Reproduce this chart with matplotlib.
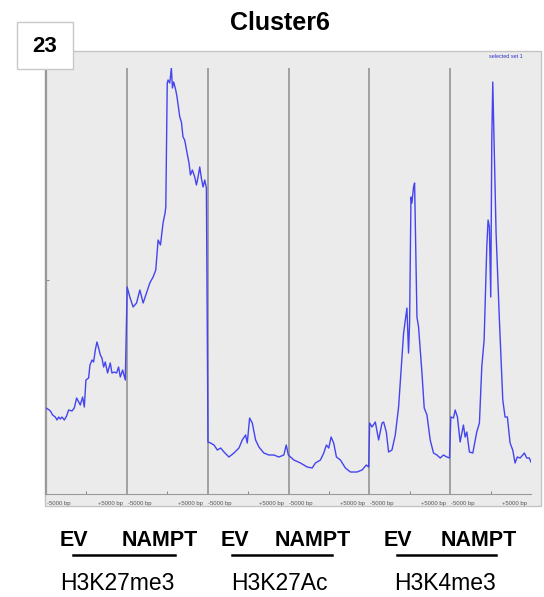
import matplotlib
matplotlib.use("Agg")
import matplotlib.pyplot as plt
from matplotlib.patches import Rectangle
from matplotlib.transforms import blended_transform_factory

plt.rcParams["font.family"] = ["Liberation Sans", "DejaVu Sans"]

# Average read density profiles around TSS (-5000 .. +5000 bp), one per track
ev_k27me3_bp = [-5000, -4590, -4380, -4180, -3850, -3640, -3430, -3230, -3020, -2730, -2450,
                -2200, -1790, -1500, -1210, -960, -760, -470, -260, -60, 270, 440, 690, 890,
                1100, 1300, 1510, 1720, 1920, 2130, 2330, 2620, 2950, 3160, 3450, 3730,
                3980, 4190, 4480, 4810]
ev_k27me3 = [0.84, 0.82, 0.80, 0.77, 0.75, 0.72, 0.75, 0.73, 0.75, 0.72, 0.76,
             0.82, 0.81, 0.84, 0.94, 0.90, 0.87, 0.95, 0.85, 1.12, 1.14, 1.27, 1.32, 1.30,
             1.42, 1.50, 1.44, 1.37, 1.34, 1.25, 1.30, 1.19, 1.29, 1.19, 1.20, 1.19,
             1.25, 1.15, 1.22, 1.12]

nampt_k27me3_bp = [-4960, -4630, -4220, -3800, -3390, -2980, -2570, -2160, -1750, -1420, -1130,
                   -840, -520, -270, -180, 0, 100, 310, 510, 640, 800, 1050, 1210, 1550,
                   1750, 1950, 2160, 2450, 2690, 2870, 3110, 3400, 3610, 3810, 4020, 4220,
                   4430, 4640, 4840]
nampt_k27me3 = [2.05, 1.95, 1.85, 1.89, 2.02, 1.89, 1.99, 2.09, 2.15, 2.22, 2.52,
                2.47, 2.69, 2.79, 2.85, 4.09, 4.12, 4.09, 4.24, 4.04, 4.10, 4.02, 3.95, 3.75,
                3.70, 3.55, 3.52, 3.39, 3.29, 3.17, 3.22, 3.15, 3.07, 3.15, 3.25, 3.14,
                3.05, 3.12, 3.04]

ev_k27ac_bp = [-4960, -4630, -4220, -3800, -3390, -2980, -2370, -1750, -1130, -720, -310,
               -100, 190, 520, 930, 1340, 1950, 2570, 3190, 3800, 4420, 4720, 4980]
ev_k27ac = [0.50, 0.49, 0.47, 0.42, 0.44, 0.40, 0.35, 0.39, 0.44, 0.52, 0.57,
            0.49, 0.74, 0.69, 0.52, 0.45, 0.39, 0.37, 0.37, 0.35, 0.37, 0.47, 0.37]

nampt_k27ac_bp = [-4750, -4340, -3520, -2690, -2070, -1670, -1050, -640, -310, -20, 270, 590,
                  930, 1420, 2040, 2660, 3480, 4100, 4630, 4920]
nampt_k27ac = [0.35, 0.32, 0.29, 0.25, 0.24, 0.29, 0.32, 0.39, 0.47, 0.44, 0.55, 0.49,
               0.35, 0.32, 0.24, 0.20, 0.20, 0.22, 0.27, 0.25]

ev_k4me3_bp = [-4960, -4670, -4260, -3850, -3430, -3230, -2900, -2620, -2200, -1790, -1380,
               -1090, -760, -350, -150, -20, 150, 270, 470, 600, 720, 890, 1090, 1510,
               1790, 2130, 2530, 2940, 3360, 3770, 4170, 4590, 4920]
ev_k4me3 = [0.69, 0.65, 0.70, 0.52, 0.69, 0.70, 0.60, 0.40, 0.42, 0.57, 0.85,
            1.19, 1.59, 1.84, 1.39, 1.69, 2.95, 2.89, 3.05, 3.09, 2.52, 1.75, 1.65, 1.19,
            0.84, 0.77, 0.52, 0.39, 0.37, 0.34, 0.37, 0.35, 0.34]

nampt_k4me3_bp = [-4920, -4590, -4380, -4100, -3770, -3360, -3150, -2940, -2620, -2200, -1710,
                  -1380, -1090, -800, -470, -310, -150, 20, 150, 270, 430, 680, 1090, 1510,
                  1790, 2080, 2410, 2740, 3030, 3310, 3650, 3980, 4180, 4470, 4790, 5000]
nampt_k4me3 = [0.75, 0.74, 0.82, 0.75, 0.50, 0.67, 0.55, 0.60, 0.40, 0.39, 0.60,
               0.69, 1.25, 1.52, 2.45, 2.72, 2.65, 1.95, 3.52, 4.10, 3.52, 2.59, 1.72, 0.92,
               0.75, 0.75, 0.49, 0.42, 0.29, 0.35, 0.34, 0.37, 0.39, 0.34, 0.34, 0.30]

tracks = [
    (ev_k27me3_bp, ev_k27me3),
    (nampt_k27me3_bp, nampt_k27me3),
    (ev_k27ac_bp, ev_k27ac),
    (nampt_k27ac_bp, nampt_k27ac),
    (ev_k4me3_bp, ev_k4me3),
    (nampt_k4me3_bp, nampt_k4me3),
]

groups = ["H3K27me3", "H3K27Ac", "H3K4me3"]
conditions = ["EV", "NAMPT"]

W, H = 544, 597
SPAN = 10000


def fx(x):
    return x / W


def fy(y):
    return 1 - y / H


fig = plt.figure(figsize=(W / 100, H / 100), dpi=100)

# grey panel behind the profile plot
fig.patches.append(Rectangle((fx(45), fy(506)), fx(541) - fx(45), fy(51) - fy(506),
                             transform=fig.transFigure, facecolor="#ebebeb",
                             edgecolor="#c4c4c4", lw=1, zorder=-5))

ax = fig.add_axes([fx(46), fy(494), fx(531) - fx(46), fy(68) - fy(494)], zorder=1)
ax.set_facecolor("none")

xs, ys = [], []
for k, (bp, sig) in enumerate(tracks):
    xs += [k * SPAN + b + SPAN / 2 for b in bp]
    ys += sig
ax.plot(xs, ys, color="#4444f0", lw=1.0, zorder=3)

ax.set_xlim(0, len(tracks) * SPAN)
ax.set_ylim(-0.02, 4.24)

for k in range(1, len(tracks)):
    ax.axvline(k * SPAN, color="#8c8c8c", lw=1.1, zorder=1)

for s in ["top", "right"]:
    ax.spines[s].set_visible(False)
ax.spines["left"].set_color("#9a9a9a")
ax.spines["left"].set_linewidth(1.6)
ax.spines["bottom"].set_color("#9a9a9a")
ax.spines["bottom"].set_linewidth(0.8)

ax.set_xticks([k * SPAN + SPAN / 2 for k in range(len(tracks))])
ax.set_xticklabels([])
ax.set_yticks([2.12])
ax.set_yticklabels([])
ax.tick_params(direction="in", length=2, width=0.6, color="#777777")

trans = blended_transform_factory(ax.transData, ax.transAxes)
for k in range(len(tracks)):
    ax.text(k * SPAN + 100, -0.016, "-5000 bp", transform=trans, ha="left", va="top",
            fontsize=4.3, color="#555555")
    ax.text((k + 1) * SPAN - 550, -0.016, "+5000 bp", transform=trans, ha="right", va="top",
            fontsize=4.3, color="#555555")

fig.text(fx(523), fy(57), "selected set 1", ha="right", va="center", fontsize=4.0,
         color="#3333cc")

fig.text(fx(280), fy(23), "Cluster6", ha="center", va="center", fontsize=18,
         fontweight="bold")

box = Rectangle((fx(17), fy(69)), fx(73) - fx(17), fy(22) - fy(69),
                transform=fig.transFigure, facecolor="white", edgecolor="#c8c8c8", lw=1)
box.set_zorder(5)
fig.add_artist(box)
fig.text(fx(45), fy(46), "23", ha="center", va="center", fontsize=16, fontweight="bold",
         zorder=6)

ev_x = [74, 235, 398]
nampt_x = [160, 313, 479]
line_x = [(73, 175), (232, 332), (397, 496)]
group_x = [117, 279, 445]
for i, g in enumerate(groups):
    fig.text(fx(ev_x[i]), fy(541), conditions[0], ha="center", va="center", fontsize=15.5,
             fontweight="bold")
    fig.text(fx(nampt_x[i]), fy(541), conditions[1], ha="center", va="center", fontsize=15.5,
             fontweight="bold")
    fig.add_artist(plt.Line2D([fx(line_x[i][0]), fx(line_x[i][1])], [fy(555), fy(555)],
                              transform=fig.transFigure, color="black", lw=1.8))
    fig.text(fx(group_x[i]), fy(584), g, ha="center", va="center", fontsize=16.5)

fig.savefig("out.png", dpi=100)
